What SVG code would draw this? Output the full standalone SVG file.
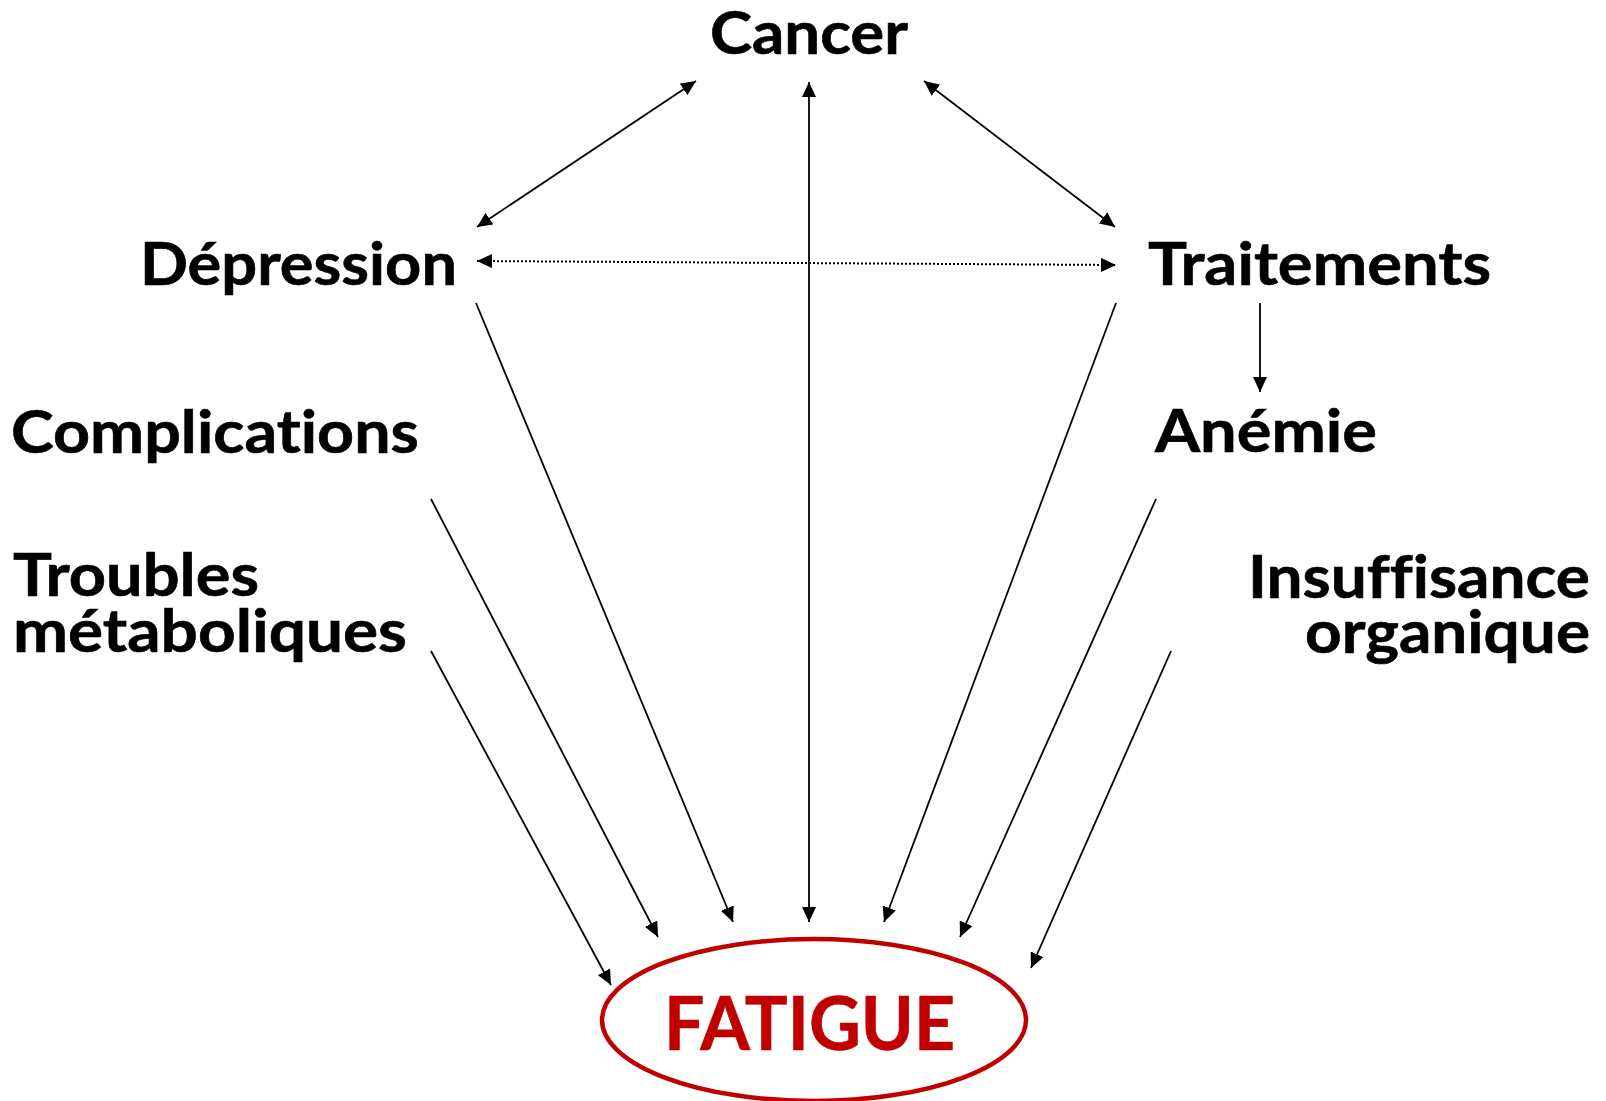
<svg xmlns="http://www.w3.org/2000/svg" width="1606" height="1101" viewBox="0 0 1606 1101">
<style>
  .lbl { font-family: Lato, "Open Sans", "Liberation Sans", sans-serif; font-weight: bold; font-size: 59px; fill: #000; stroke: #000; stroke-width: 0.6; font-variant-ligatures: none; }
  .main { font-family: Lato, "Open Sans", "Liberation Sans", sans-serif; font-weight: bold; font-size: 75px; fill: #C00000; stroke: #C00000; stroke-width: 0.6; font-variant-ligatures: none; }
  .edge { stroke: #000; stroke-width: 1.8; fill: none; }
  .dot { stroke: #000; stroke-width: 2; fill: none; stroke-dasharray: 2 2; }
</style>
<defs>
  <marker id="ah" markerUnits="userSpaceOnUse" markerWidth="15" markerHeight="14" refX="15" refY="7" orient="auto-start-reverse">
    <path d="M0,0 L15,7 L0,14 Z" fill="#000"/>
  </marker>
</defs>
<rect width="1606" height="1101" fill="#fff"/>

<g id="connectors">
  <line class="edge" x1="696" y1="81" x2="477" y2="227" marker-start="url(#ah)" marker-end="url(#ah)"/>
  <line class="edge" x1="809" y1="82" x2="809" y2="922" marker-start="url(#ah)" marker-end="url(#ah)"/>
  <line class="edge" x1="924" y1="81" x2="1115" y2="227" marker-start="url(#ah)" marker-end="url(#ah)"/>
  <line class="dot" x1="477" y1="261" x2="1116" y2="265" marker-start="url(#ah)" marker-end="url(#ah)"/>
  <line class="edge" x1="1260" y1="303" x2="1260" y2="392" marker-end="url(#ah)"/>
  <line class="edge" x1="476" y1="303" x2="733" y2="922" marker-end="url(#ah)"/>
  <line class="edge" x1="431" y1="499" x2="658" y2="937" marker-end="url(#ah)"/>
  <line class="edge" x1="431" y1="651" x2="611" y2="985" marker-end="url(#ah)"/>
  <line class="edge" x1="1116" y1="303" x2="884" y2="922" marker-end="url(#ah)"/>
  <line class="edge" x1="1156" y1="499" x2="960" y2="937" marker-end="url(#ah)"/>
  <line class="edge" x1="1171" y1="651" x2="1031" y2="968" marker-end="url(#ah)"/>
</g>

<g id="cancer"><text class="lbl" x="710" y="54" textLength="198" lengthAdjust="spacingAndGlyphs">Cancer</text></g>
<g id="depression"><text class="lbl" x="140" y="285" textLength="317" lengthAdjust="spacingAndGlyphs">Dépression</text></g>
<g id="traitements"><text class="lbl" x="1148" y="285" textLength="343" lengthAdjust="spacingAndGlyphs">Traitements</text></g>
<g id="complications"><text class="lbl" x="11" y="453" textLength="408" lengthAdjust="spacingAndGlyphs">Complications</text></g>
<g id="anemie"><text class="lbl" x="1155" y="452" textLength="222" lengthAdjust="spacingAndGlyphs">Anémie</text></g>
<g id="troubles">
  <text class="lbl" x="13" y="596" textLength="246" lengthAdjust="spacingAndGlyphs">Troubles</text>
  <text class="lbl" x="13" y="652" textLength="394" lengthAdjust="spacingAndGlyphs">métaboliques</text>
</g>
<g id="insuffisance">
  <text class="lbl" x="1248" y="598" textLength="342" lengthAdjust="spacingAndGlyphs">Insuffisance</text>
  <text class="lbl" x="1305" y="653" textLength="285" lengthAdjust="spacingAndGlyphs">organique</text>
</g>
<g id="fatigue">
  <ellipse cx="814" cy="1020" rx="212" ry="81" fill="none" stroke="#C00000" stroke-width="4.5"/>
  <text class="main" x="664" y="1050" textLength="291" lengthAdjust="spacingAndGlyphs">FATIGUE</text>
</g>
</svg>
